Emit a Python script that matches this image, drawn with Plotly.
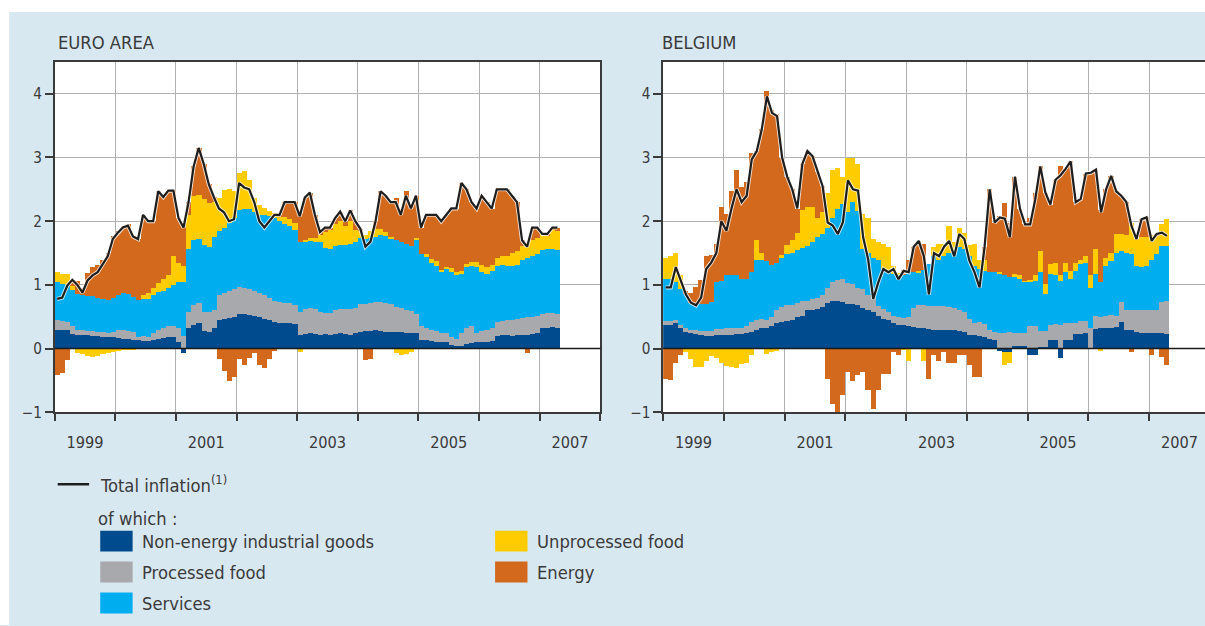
import plotly.graph_objects as go

# ---- data (monthly, Jan 1999 - Apr 2007), contributions in percentage points ----
months = [f"{1999 + i // 12}-{i % 12 + 1:02d}" for i in range(100)]

euro_total = [
    0.78, 0.80, 0.99, 1.08, 1.00, 0.88, 1.07, 1.15, 1.20, 1.32, 1.45, 1.72,
    1.82, 1.90, 1.93, 1.76, 1.72, 2.10, 2.00, 2.00, 2.47, 2.38, 2.48, 2.48,
    2.05, 1.90, 2.30, 2.86, 3.15, 2.90, 2.58, 2.38, 2.20, 2.14, 2.00, 2.03,
    2.60, 2.53, 2.50, 2.30, 2.00, 1.90, 2.00, 2.10, 2.10, 2.30, 2.30, 2.30,
    2.08, 2.37, 2.45, 2.10, 1.83, 1.90, 1.90, 2.05, 2.15, 2.00, 2.17, 2.00,
    1.88, 1.60, 1.68, 2.00, 2.47, 2.40, 2.30, 2.30, 2.10, 2.40, 2.20, 2.40,
    1.90, 2.10, 2.10, 2.10, 2.00, 2.10, 2.20, 2.20, 2.60, 2.50, 2.30, 2.20,
    2.40, 2.30, 2.20, 2.50, 2.50, 2.50, 2.40, 2.30, 1.70, 1.60, 1.90, 1.90,
    1.80, 1.80, 1.90, 1.90]
euro_neig = [
    0.30, 0.30, 0.29, 0.23, 0.22, 0.21, 0.21, 0.20, 0.20, 0.19, 0.18, 0.19,
    0.17, 0.16, 0.15, 0.14, 0.13, 0.12, 0.12, 0.13, 0.15, 0.17, 0.19, 0.18,
    0.10, -0.07, 0.32, 0.38, 0.40, 0.28, 0.27, 0.33, 0.45, 0.47, 0.48, 0.50,
    0.55, 0.55, 0.53, 0.52, 0.50, 0.47, 0.45, 0.42, 0.41, 0.40, 0.40, 0.39,
    0.21, 0.23, 0.24, 0.23, 0.22, 0.23, 0.22, 0.23, 0.24, 0.23, 0.22, 0.24,
    0.27, 0.28, 0.28, 0.29, 0.28, 0.27, 0.27, 0.26, 0.26, 0.25, 0.25, 0.25,
    0.13, 0.13, 0.12, 0.11, 0.10, 0.10, 0.06, 0.04, 0.05, 0.08, 0.09, 0.10,
    0.10, 0.11, 0.12, 0.20, 0.21, 0.21, 0.20, 0.21, 0.22, 0.22, 0.23, 0.24,
    0.33, 0.33, 0.34, 0.33]
euro_pfood = [
    0.15, 0.14, 0.13, 0.12, 0.08, 0.08, 0.07, 0.08, 0.07, 0.07, 0.07, 0.08,
    0.12, 0.13, 0.13, 0.12, 0.06, 0.08, 0.06, 0.12, 0.14, 0.16, 0.16, 0.17,
    0.22, 0.20, 0.25, 0.30, 0.32, 0.30, 0.30, 0.27, 0.40, 0.40, 0.42, 0.43,
    0.42, 0.40, 0.40, 0.38, 0.37, 0.38, 0.35, 0.33, 0.32, 0.32, 0.31, 0.30,
    0.36, 0.40, 0.40, 0.39, 0.36, 0.33, 0.34, 0.38, 0.39, 0.40, 0.40, 0.40,
    0.43, 0.42, 0.44, 0.44, 0.46, 0.45, 0.43, 0.40, 0.38, 0.36, 0.34, 0.30,
    0.22, 0.20, 0.18, 0.17, 0.15, 0.14, 0.12, 0.12, 0.20, 0.25, 0.26, 0.15,
    0.18, 0.19, 0.20, 0.22, 0.23, 0.24, 0.25, 0.25, 0.27, 0.28, 0.27, 0.27,
    0.22, 0.23, 0.22, 0.22]
euro_services = [
    0.60, 0.58, 0.58, 0.57, 0.56, 0.56, 0.55, 0.54, 0.53, 0.52, 0.51, 0.52,
    0.56, 0.58, 0.58, 0.55, 0.57, 0.58, 0.60, 0.60, 0.60, 0.58, 0.60, 0.65,
    0.72, 0.85, 0.99, 1.02, 1.00, 1.05, 1.03, 1.15, 1.00, 1.03, 1.07, 1.12,
    1.20, 1.25, 1.27, 1.25, 1.23, 1.25, 1.28, 1.30, 1.27, 1.23, 1.22, 1.18,
    1.10, 1.05, 1.06, 1.06, 1.10, 1.02, 1.00, 1.00, 1.00, 1.00, 1.03, 1.03,
    1.03, 1.02, 1.02, 1.03, 1.04, 1.05, 1.03, 1.04, 1.04, 1.04, 1.03, 1.17,
    1.13, 1.12, 1.05, 1.02, 0.95, 1.01, 1.02, 0.99, 0.92, 0.95, 0.95, 1.03,
    0.92, 0.87, 0.90, 0.88, 0.88, 0.85, 0.85, 0.86, 0.91, 0.93, 0.95, 0.97,
    1.00, 1.00, 1.00, 1.00]
euro_ufood = [
    0.15, 0.16, 0.17, 0.06, -0.06, -0.08, -0.12, -0.13, -0.11, -0.08, -0.06, -0.05,
    -0.03, -0.02, -0.02, -0.01, 0.00, 0.06, 0.10, 0.10, 0.14, 0.18, 0.21, 0.45,
    0.30, 0.25, 0.54, 0.70, 0.70, 0.72, 0.68, 0.55, 0.51, 0.59, 0.53, 0.42,
    0.59, 0.59, 0.45, 0.21, 0.16, 0.11, 0.08, 0.08, 0.06, 0.12, 0.10, 0.10,
    -0.05, 0.03, 0.03, 0.05, 0.12, 0.25, 0.30, 0.35, 0.38, 0.30, 0.35, 0.20,
    0.12, 0.06, 0.10, 0.12, 0.10, 0.06, 0.03, -0.06, -0.10, -0.08, -0.05, 0.02,
    0.00, 0.03, 0.06, 0.07, 0.04, 0.04, 0.06, 0.06, 0.05, 0.05, 0.06, 0.08,
    0.12, 0.12, 0.10, 0.12, 0.14, 0.16, 0.20, 0.22, 0.22, 0.23, 0.25, 0.26,
    0.25, 0.22, 0.30, 0.30]
euro_energy = [
    -0.42, -0.38, -0.18, 0.10, 0.20, 0.11, 0.36, 0.46, 0.51, 0.62, 0.75, 0.98,
    1.00, 1.05, 1.09, 0.96, 0.96, 1.26, 1.12, 1.05, 1.44, 1.29, 1.32, 1.03,
    0.71, 0.67, 0.20, 0.46, 0.73, 0.55, 0.30, 0.08, -0.16, -0.35, -0.50, -0.44,
    -0.16, -0.26, -0.15, -0.06, -0.26, -0.31, -0.16, -0.03, 0.04, 0.23, 0.27, 0.33,
    0.46, 0.66, 0.72, 0.37, 0.03, 0.07, 0.04, 0.09, 0.14, 0.07, 0.17, 0.13,
    0.03, -0.18, -0.16, 0.12, 0.59, 0.57, 0.54, 0.66, 0.52, 0.83, 0.63, 0.66,
    0.42, 0.62, 0.69, 0.73, 0.76, 0.81, 0.94, 0.99, 1.38, 1.17, 0.94, 0.84,
    1.08, 1.01, 0.88, 1.08, 1.04, 1.04, 0.90, 0.76, 0.08, -0.06, 0.20, 0.16,
    0.00, 0.02, 0.04, 0.05]

be_total = [
    0.96, 0.96, 1.28, 1.05, 0.85, 0.72, 0.68, 0.80, 1.25, 1.35, 1.50, 2.00,
    1.85, 2.20, 2.50, 2.30, 2.40, 2.97, 3.10, 3.45, 3.96, 3.70, 3.65, 3.00,
    2.70, 2.50, 2.20, 2.90, 3.10, 3.02, 2.78, 2.55, 1.98, 1.93, 1.80, 1.98,
    2.64, 2.50, 2.48, 1.75, 1.40, 0.78, 1.04, 1.25, 1.20, 1.25, 1.09, 1.22,
    1.20, 1.60, 1.69, 1.45, 0.85, 1.50, 1.45, 1.60, 1.69, 1.45, 1.80, 1.72,
    1.38, 1.20, 0.96, 1.60, 2.50, 1.98, 2.06, 2.04, 1.75, 2.70, 2.19, 1.95,
    1.95, 2.34, 2.86, 2.45, 2.26, 2.65, 2.72, 2.82, 2.94, 2.30, 2.35, 2.75,
    2.76, 2.81, 2.14, 2.50, 2.71, 2.47, 2.40, 2.30, 1.93, 1.72, 2.03, 2.06,
    1.69, 1.80, 1.82, 1.77]
be_neig = [
    0.38, 0.38, 0.40, 0.33, 0.27, 0.25, 0.23, 0.22, 0.20, 0.20, 0.21, 0.21,
    0.22, 0.22, 0.23, 0.23, 0.24, 0.27, 0.30, 0.32, 0.33, 0.35, 0.40, 0.42,
    0.43, 0.45, 0.50, 0.52, 0.60, 0.60, 0.62, 0.65, 0.72, 0.75, 0.75, 0.74,
    0.70, 0.70, 0.68, 0.64, 0.60, 0.58, 0.52, 0.47, 0.45, 0.40, 0.38, 0.37,
    0.35, 0.34, 0.33, 0.32, 0.31, 0.30, 0.30, 0.30, 0.29, 0.29, 0.28, 0.27,
    0.22, 0.21, 0.20, 0.19, 0.15, 0.14, -0.03, -0.05, -0.05, 0.05, 0.05, 0.05,
    -0.10, -0.10, 0.03, 0.03, 0.13, 0.13, -0.14, 0.13, 0.13, 0.23, 0.23, 0.24,
    0.00, 0.31, 0.32, 0.32, 0.33, 0.34, 0.42, 0.30, 0.29, 0.26, 0.25, 0.25,
    0.25, 0.24, 0.24, 0.23]
be_pfood = [
    0.05, 0.05, 0.05, 0.05, 0.05, 0.05, 0.06, 0.06, 0.08, 0.08, 0.10, 0.10,
    0.10, 0.10, 0.10, 0.10, 0.12, 0.15, 0.15, 0.15, 0.12, 0.15, 0.20, 0.23,
    0.25, 0.23, 0.22, 0.23, 0.15, 0.18, 0.18, 0.20, 0.23, 0.30, 0.33, 0.36,
    0.33, 0.32, 0.28, 0.30, 0.25, 0.22, 0.15, 0.15, 0.13, 0.12, 0.12, 0.12,
    0.15, 0.30, 0.35, 0.36, 0.36, 0.37, 0.37, 0.37, 0.36, 0.35, 0.33, 0.30,
    0.25, 0.20, 0.22, 0.20, 0.15, 0.12, 0.25, 0.25, 0.26, 0.20, 0.20, 0.20,
    0.35, 0.35, 0.25, 0.25, 0.25, 0.26, 0.38, 0.27, 0.28, 0.17, 0.20, 0.20,
    0.33, 0.20, 0.18, 0.20, 0.20, 0.17, 0.31, 0.30, 0.32, 0.34, 0.36, 0.35,
    0.35, 0.37, 0.50, 0.52]
be_services = [
    0.67, 0.67, 0.60, 0.55, 0.54, 0.42, 0.41, 0.42, 0.42, 0.45, 0.73, 0.75,
    0.83, 0.83, 0.82, 0.77, 0.74, 0.78, 0.95, 0.92, 0.93, 0.82, 0.75, 0.77,
    0.80, 0.82, 0.83, 0.83, 0.87, 0.90, 0.95, 0.95, 0.95, 1.00, 1.12, 1.17,
    1.12, 1.28, 1.20, 0.62, 0.65, 0.62, 0.73, 0.63, 0.62, 0.66, 0.66, 0.66,
    0.70, 0.56, 0.52, 0.55, 0.66, 0.78, 0.73, 0.78, 0.85, 0.86, 0.99, 1.00,
    0.98, 0.89, 0.83, 0.83, 0.90, 0.94, 0.93, 0.90, 0.86, 0.87, 0.85, 0.80,
    0.70, 0.72, 0.92, 0.58, 0.79, 0.76, 0.69, 0.80, 0.69, 0.82, 0.90, 0.91,
    0.63, 0.66, 0.55, 0.78, 0.85, 1.00, 0.81, 0.91, 0.87, 0.70, 0.67, 0.70,
    0.80, 0.87, 0.87, 0.86]
be_ufood = [
    0.33, 0.35, 0.45, 0.22, -0.05, -0.16, -0.29, -0.28, -0.20, -0.12, -0.15, -0.22,
    -0.27, -0.28, -0.30, -0.24, -0.22, -0.10, 0.30, 0.12, -0.08, -0.05, -0.03, 0.05,
    0.15, 0.20, 0.27, 0.60, 0.60, 0.55, 0.30, 0.35, 0.55, 0.75, 0.63, 0.43,
    0.85, 0.70, 0.74, 0.55, 0.55, 0.30, 0.28, 0.40, 0.40, 0.12, 0.03, -0.02,
    -0.20, 0.00, 0.02, -0.20, 0.00, 0.15, 0.25, 0.20, 0.42, 0.18, 0.30, 0.25,
    0.18, 0.35, 0.15, 0.18, 0.00, 0.00, 0.02, -0.20, -0.18, 0.05, 0.05, 0.02,
    0.03, 0.08, 0.34, 0.16, 0.16, 0.20, 0.08, 0.15, 0.12, 0.13, 0.07, 0.11,
    0.19, 0.39, -0.03, 0.13, 0.12, 0.29, 0.26, 0.27, 0.50, 0.42, 0.47, 0.45,
    0.39, 0.30, 0.34, 0.42]
be_energy = [
    -0.47, -0.49, -0.22, -0.10, 0.04, 0.16, 0.27, 0.38, 0.75, 0.74, 0.61, 1.16,
    0.97, 1.33, 1.65, 1.44, 1.52, 1.87, 1.40, 1.94, 2.66, 2.43, 2.33, 1.53,
    1.07, 0.80, 0.38, 0.72, 0.88, 0.79, 0.73, 0.40, -0.47, -0.87, -1.03, -0.72,
    -0.36, -0.50, -0.42, -0.36, -0.65, -0.94, -0.64, -0.40, -0.40, -0.05, -0.10, 0.09,
    0.20, 0.40, 0.47, 0.42, -0.48, -0.10, -0.20, -0.05, -0.23, -0.23, -0.10, -0.10,
    -0.25, -0.45, -0.44, 0.20, 1.30, 0.78, 0.89, 1.14, 0.86, 1.53, 1.04, 0.88,
    0.97, 1.29, 1.32, 1.43, 0.93, 1.30, 1.71, 1.47, 1.72, 0.95, 0.95, 1.29,
    1.61, 1.25, 1.12, 1.07, 1.21, 0.67, 0.60, 0.52, -0.05, 0.00, 0.28, 0.31,
    -0.10, 0.02, -0.13, -0.26]

tick_years = ["1999", "2001", "2003", "2005", "2007"]

component_names = ["Non-energy industrial goods", "Processed food", "Services",
                   "Unprocessed food", "Energy"]
component_colors = ["#004b8d", "#a7a9ac", "#00aeef", "#ffcc00", "#d3691d"]

# ---- styling ----
# the page photo comes out ~1.2% smaller than the figure, so the figure is laid out
# slightly larger and positions are given as fractions of the target 1205x626 frame
RW, RH = 1205, 626
W, H = 1220, 634
K = W / RW
BG = "#d8e8f1"
GRID = "#b0b0b0"
FRAME = "#3a3a3a"
TEXT = "#3a3a3a"
FONT = "DejaVu Sans Condensed, Liberation Sans Narrow, sans-serif"

# decimal-year centre of each month bar
xpos = [int(m[:4]) + (int(m[5:]) - 0.5) / 12 for m in months]


def px(x):
    return x / RW


def py(y):
    return 1 - y / RH


fig = go.Figure()

panels = [
    ("x", "y", [euro_neig, euro_pfood, euro_services, euro_ufood, euro_energy], euro_total),
    ("x2", "y2", [be_neig, be_pfood, be_services, be_ufood, be_energy], be_total),
]
for xa, ya, comps, total in panels:
    for name, color, vals in zip(component_names, component_colors, comps):
        fig.add_trace(go.Bar(x=xpos, y=vals, name=name, marker_color=color,
                             marker_line_width=0, xaxis=xa, yaxis=ya,
                             showlegend=False))
    # thin white halo under the total line
    fig.add_trace(go.Scatter(x=xpos, y=total, mode="lines",
                             line=dict(color="rgba(255,255,255,0.8)", width=4 * K),
                             xaxis=xa, yaxis=ya, showlegend=False, hoverinfo="skip"))
    fig.add_trace(go.Scatter(x=xpos, y=total, mode="lines", name="Total inflation",
                             line=dict(color="#1e1e1e", width=2.2 * K),
                             xaxis=xa, yaxis=ya, showlegend=False))

xaxis_common = dict(
    range=[1999, 2008],
    tickvals=[int(y) + 0.5 for y in tick_years],
    ticktext=tick_years,
    ticks="",
    showgrid=False,
    zeroline=False,
    showline=True, mirror=True, linecolor=FRAME, linewidth=1.5,
    tickfont=dict(family=FONT, size=16 * K, color=TEXT),
    ticklabelstandoff=14,
    minor=dict(tick0=1999, dtick=1, showgrid=True, gridcolor=GRID, gridwidth=1.2,
               ticks="outside", ticklen=7, tickcolor=FRAME, tickwidth=1.5),
)
yaxis_common = dict(
    range=[-1, 4.5],
    tickvals=[-1, 0, 1, 2, 3, 4],
    ticktext=["\u22121", "0", "1", "2", "3", "4"],
    ticks="outside", ticklen=8, tickcolor=FRAME, tickwidth=1.5,
    showgrid=True, gridcolor=GRID, gridwidth=1.2,
    zeroline=False,
    showline=True, mirror=True, linecolor=FRAME, linewidth=1.5,
    tickfont=dict(family=FONT, size=15 * K, color=TEXT),
)

ydom = [py(413), py(62)]
fig.update_layout(
    width=W, height=H,
    margin=dict(l=0, r=0, t=0, b=0),
    paper_bgcolor=BG, plot_bgcolor="white",
    barmode="relative", bargap=0,
    showlegend=False,
    xaxis=dict(domain=[px(54), px(593)], anchor="y", **xaxis_common),
    yaxis=dict(domain=ydom, anchor="x", **yaxis_common),
    xaxis2=dict(domain=[px(655), px(1195)], anchor="y2", **xaxis_common),
    yaxis2=dict(domain=ydom, anchor="x2", **yaxis_common),
)

# white outer margin (top and left strips)
fig.add_shape(type="rect", xref="paper", yref="paper", x0=0, x1=1, y0=py(12), y1=1,
              fillcolor="white", line_width=0, layer="below")
fig.add_shape(type="rect", xref="paper", yref="paper", x0=0, x1=px(9), y0=0, y1=1,
              fillcolor="white", line_width=0, layer="below")

# zero lines on top of the bars
for ya, xd in (("y", "x domain"), ("y2", "x2 domain")):
    fig.add_shape(type="line", xref=xd, x0=0, x1=1, yref=ya, y0=0, y1=0,
                  line=dict(color="#1a1a1a", width=1.5), layer="above")

# panel titles
for text, x in (("EURO AREA", 55), ("BELGIUM", 652)):
    fig.add_annotation(text=text, xref="paper", yref="paper", x=px(x), y=py(43),
                       xanchor="left", yanchor="middle", showarrow=False,
                       font=dict(family=FONT, size=18 * K, color=TEXT))

# ---- hand-made legend ----
legend_font = dict(family=FONT, size=18 * K, color=TEXT)
fig.add_shape(type="line", xref="paper", yref="paper", x0=px(57), x1=px(88),
              y0=py(485), y1=py(485), line=dict(color="#1e1e1e", width=2.5 * K))
fig.add_annotation(text="Total inflation<sup>(1)</sup>", xref="paper", yref="paper",
                   x=px(97), y=py(485), xanchor="left", yanchor="middle",
                   showarrow=False, font=legend_font)
fig.add_annotation(text="of which :", xref="paper", yref="paper",
                   x=px(95), y=py(519), xanchor="left", yanchor="middle",
                   showarrow=False, font=legend_font)

legend_slots = [(99, 542), (99, 573), (99, 604), (489, 542), (489, 573)]
for (lx, ly), name, color in zip(legend_slots, component_names, component_colors):
    fig.add_shape(type="rect", xref="paper", yref="paper",
                  x0=px(lx), x1=px(lx + 32), y0=py(ly + 10.5), y1=py(ly - 10.5),
                  fillcolor=color, line_width=0)
    fig.add_annotation(text=name, xref="paper", yref="paper",
                       x=px(lx + 39), y=py(ly), xanchor="left", yanchor="middle",
                       showarrow=False, font=legend_font)

# the page body normally adds an 8px margin; drop it so the figure starts at the corner
fig.write_html("out.html", config={"displayModeBar": False},
               post_script="document.body.style.margin='0';"
                           "document.body.style.overflow='hidden';")
